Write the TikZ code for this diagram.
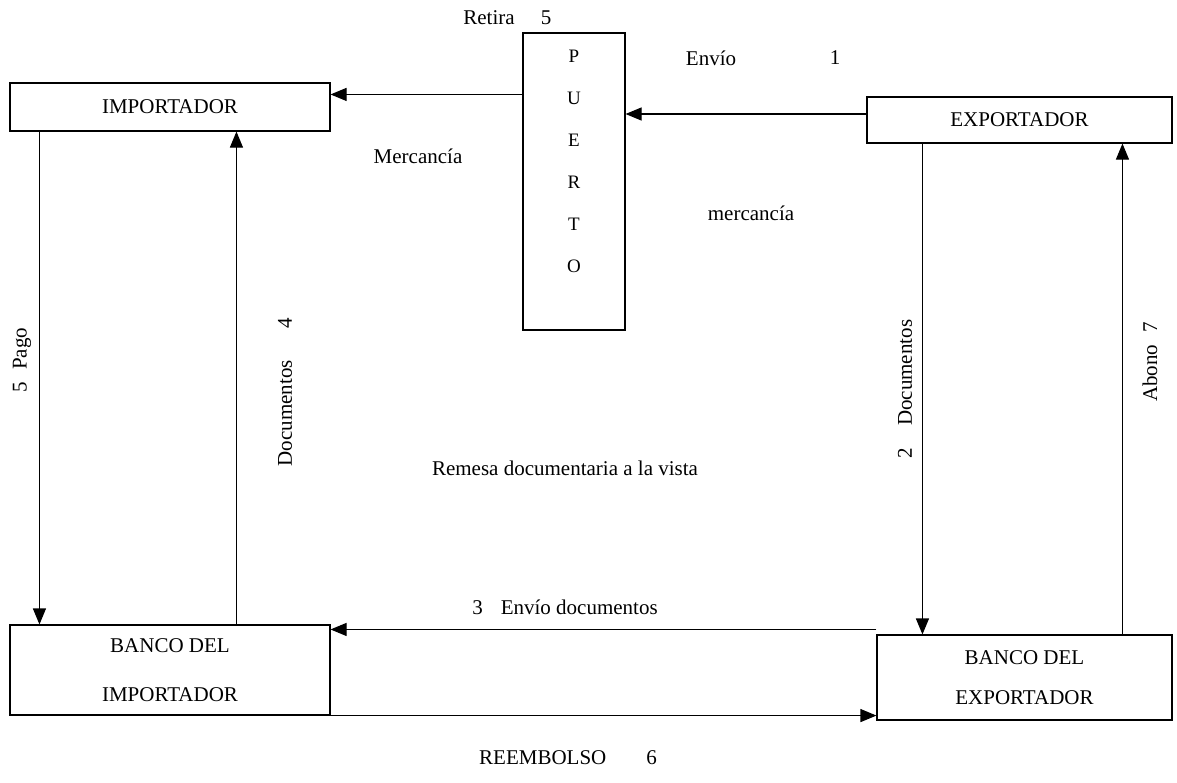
\documentclass[tikz,border=0pt]{standalone}
\usepackage{fontspec}
\setmainfont{Liberation Serif}
\usetikzlibrary{arrows.meta}
\begin{document}
\begin{tikzpicture}[x=1pt,y=-1pt,
  every node/.style={font=\fontsize{21}{25}\selectfont, inner sep=0pt},
  box/.style={draw, line width=1.1pt, rectangle},
  arr/.style={line width=1.1pt, -{Triangle[length=16pt,width=13pt]}},
  vlabel/.style={rotate=90}]
\useasboundingbox (0,0) rectangle (1177,782);

% participants
\node[box, minimum width=320pt, minimum height=48pt] (imp) at (170,107) {IMPORTADOR};
\node[box, minimum width=102pt, minimum height=297pt] (puerto) at (574,181.5) {};
\node[align=center, font=\fontsize{19}{42}\selectfont] (puertotxt) at (574,161) {P\\U\\E\\R\\T\\O};
\node[box, minimum width=305pt, minimum height=46pt] (exp) at (1019.5,120) {EXPORTADOR};
\node[box, minimum width=320pt, minimum height=90pt, align=center,
      font=\fontsize{21}{49}\selectfont] (bimp) at (170,670) {BANCO DEL\\IMPORTADOR};
\node[box, minimum width=295pt, minimum height=85pt, align=center,
      font=\fontsize{21}{40}\selectfont] (bexp) at (1024.5,677.5) {BANCO DEL\\EXPORTADOR};

% flows of goods
\draw[arr] ([yshift=-12pt]imp.north east -| puerto.west) -- ([yshift=-12pt]imp.north east);
\draw[arr] ([yshift=6pt]exp.west) -- ([yshift=6pt]exp.west -| puerto.east);

% flows of documents and payments
\draw[arr] ([xshift=30pt]imp.south west) -- ([xshift=30pt]bimp.north west);
\draw[arr] ([xshift=227pt]bimp.north west) -- ([xshift=227pt]imp.south west);
\draw[arr] ([xshift=56pt]exp.south west) -- ([xshift=46pt]bexp.north west);
\draw[arr] ([xshift=246pt]bexp.north west) -- ([xshift=256pt]exp.south west);
\draw[arr] ([yshift=5pt]bexp.north west) -- ([yshift=-5pt]bimp.north east);
\draw[arr] (bimp.south east) -- ([yshift=5pt]bexp.south west);

% labels
\node (lretira) at (489,18) {Retira};
\node (lretiran) at (546,18) {5};
\node (lenvio) at (711,58) {Envío};
\node (lenvion) at (835,58) {1};
\node (lmerc) at (418,156) {Mercancía};
\node (lmerc2) at (751,213) {mercancía};
\node[vlabel] (lpago) at (22,360) {5\hspace{12pt}Pago};
\node[vlabel] (ldoc4) at (285,392) {Documentos\hspace{32pt}4};
\node[vlabel] (ldoc2) at (905,389) {2\hspace{22pt}Documentos};
\node[vlabel] (labono) at (1150,362) {Abono\hspace{12pt}7};
\node (ltitle) at (565,468) {Remesa documentaria a la vista};
\node (lenvdoc) at (565,607) {3\hspace{18pt}Envío documentos};
\node (lreemb) at (568,758) {REEMBOLSO\hspace{40pt}6};
\end{tikzpicture}
\end{document}
